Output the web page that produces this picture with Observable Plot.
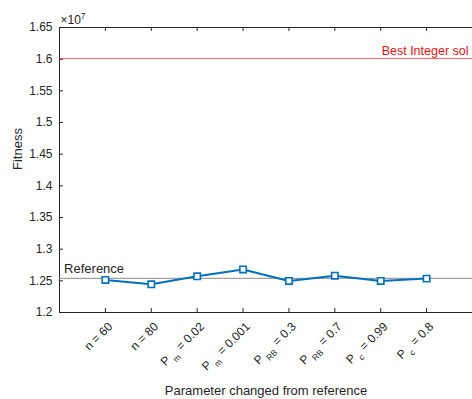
<!DOCTYPE html>
<html><head><meta charset="utf-8">
<script src="https://cdn.jsdelivr.net/npm/d3@7"></script>
<script src="https://cdn.jsdelivr.net/npm/@observablehq/plot@0.6"></script>
<style>html,body{margin:0;padding:0;overflow:hidden;background:#fff}</style>
</head><body><div id="chart"></div>
<script>
// ---- data ----
const paramSymbols = ["n", "n", "P", "P", "P", "P", "P", "P"];
const paramSubs    = ["", "", "m", "m", "RB", "RB", "c", "c"];
const paramValues  = ["60", "80", "0.02", "0.001", "0.3", "0.7", "0.99", "0.8"];
const fitness      = [12514000, 12445000, 12571000, 12680000, 12498000, 12582000, 12498000, 12535000];
const referenceFitness = 12540000;
const bestIntegerFitness = 16010000;
const yTicks = [12000000, 12500000, 13000000, 13500000, 14000000, 14500000, 15000000, 15500000, 16000000, 16500000];
const yTickLabels = ["1.2", "1.25", "1.3", "1.35", "1.4", "1.45", "1.5", "1.55", "1.6", "1.65"];
const xTitle = "Parameter changed from reference";
const yTitle = "Fitness";
const referenceLabel = "Reference";
const bestLabel = "Best Integer sol";

const data = fitness.map((f, i) => ({
  pos: i + 1, fitness: f,
  label: paramSymbols[i] + (paramSubs[i] ? "_{" + paramSubs[i] + "}" : "") + " = " + paramValues[i]
}));
const positions = data.map(d => d.pos);

const axisColor = "#262626";
const blue = "#0072BD";
const yMin = 12000000, yMax = 16500000;
const tickY = 63000;   // ~4px in y units
const tickX = 0.087;   // ~4px in x units

const chart = Plot.plot({
  width: 472, height: 399,
  marginLeft: 59, marginRight: 0, marginTop: 27, marginBottom: 87,
  style: {fontFamily: "'Liberation Sans', Arial, Helvetica, sans-serif", fontSize: "12px", color: axisColor, background: "#fff"},
  x: {domain: [0, 9], axis: null},
  y: {domain: [yMin, yMax], axis: null},
  marks: [
    // box lines
    Plot.ruleX([0], {stroke: axisColor, strokeWidth: 1}),
    Plot.ruleY([yMin, yMax], {stroke: axisColor, strokeWidth: 1}),
    // inward ticks
    Plot.ruleY(yTicks, {x1: 0, x2: tickX, stroke: axisColor}),
    Plot.ruleX(positions, {y1: yMin, y2: yMin + tickY, stroke: axisColor}),
    Plot.ruleX(positions, {y1: yMax, y2: yMax - tickY, stroke: axisColor}),
    Plot.axisY({ticks: yTicks, tickSize: 0, tickPadding: 7, tickFormat: d => yTickLabels[yTicks.indexOf(d)], fontSize: 12, fill: axisColor, label: null}),
    // reference lines
    Plot.ruleY([bestIntegerFitness], {stroke: "#ff0000", strokeOpacity: 0.6, strokeWidth: 1}),
    Plot.ruleY([referenceFitness], {stroke: "#8a8a8a", strokeWidth: 1}),
    Plot.text([referenceLabel], {x: 0.1, y: referenceFitness, dy: -5, textAnchor: "start", lineAnchor: "bottom", fontSize: 13, fill: axisColor}),
    Plot.text([bestLabel], {x: 7.02, y: bestIntegerFitness, dy: -4, textAnchor: "start", lineAnchor: "bottom", fontSize: 12.5, fill: "#ee1111"}),
    // series
    Plot.line(data, {x: "pos", y: "fitness", stroke: blue, strokeWidth: 2}),
    Plot.dot(data, {x: "pos", y: "fitness", symbol: "square", r: 3.6, stroke: blue, strokeWidth: 1.6, fill: "white"}),
    // x tick labels (rotated)
    Plot.text(data, {x: "pos", y: yMin, text: "label", rotate: -45, textAnchor: "end", lineAnchor: "middle", dx: 5, dy: 12, fontSize: 12, fill: axisColor}),
    // titles
    Plot.text([yTitle], {frameAnchor: "left", rotate: -90, dx: -42, fontSize: 13, fill: axisColor}),
    Plot.text([xTitle], {frameAnchor: "bottom", lineAnchor: "middle", dy: 78, fontSize: 13, fill: axisColor}),
    Plot.text(["\u00d710^{7}"], {frameAnchor: "top-left", textAnchor: "start", lineAnchor: "bottom", dx: 1, dy: -4, fontSize: 12, fill: axisColor})
  ]
});
document.getElementById("chart").appendChild(chart);

// turn _{..} and ^{..} into sub/superscript tspans
function markup(textEl) {
  const s = textEl.textContent;
  if (!/[_^]\{/.test(s)) return;
  const parts = s.split(/([_^]\{[^}]*\})/).filter(p => p.length);
  while (textEl.firstChild) textEl.removeChild(textEl.firstChild);
  const ns = "http://www.w3.org/2000/svg";
  let shift = 0, wasSub = false;
  for (const p of parts) {
    const t = document.createElementNS(ns, "tspan");
    const m = p.match(/^([_^])\{([^}]*)\}$/);
    if (m) {
      const isSub = m[1] === "_";
      const d = isSub ? 5 : -5;
      t.setAttribute("dy", d - shift); shift = d;
      if (isSub) t.setAttribute("dx", 2.5);
      t.setAttribute("font-size", "8.5");
      t.textContent = m[2];
      wasSub = isSub;
    } else {
      if (shift) t.setAttribute("dy", -shift);
      if (wasSub) t.setAttribute("dx", 1);
      shift = 0; wasSub = false;
      t.textContent = p;
    }
    textEl.appendChild(t);
  }
}
chart.querySelectorAll("text").forEach(markup);
</script>
</body></html>
